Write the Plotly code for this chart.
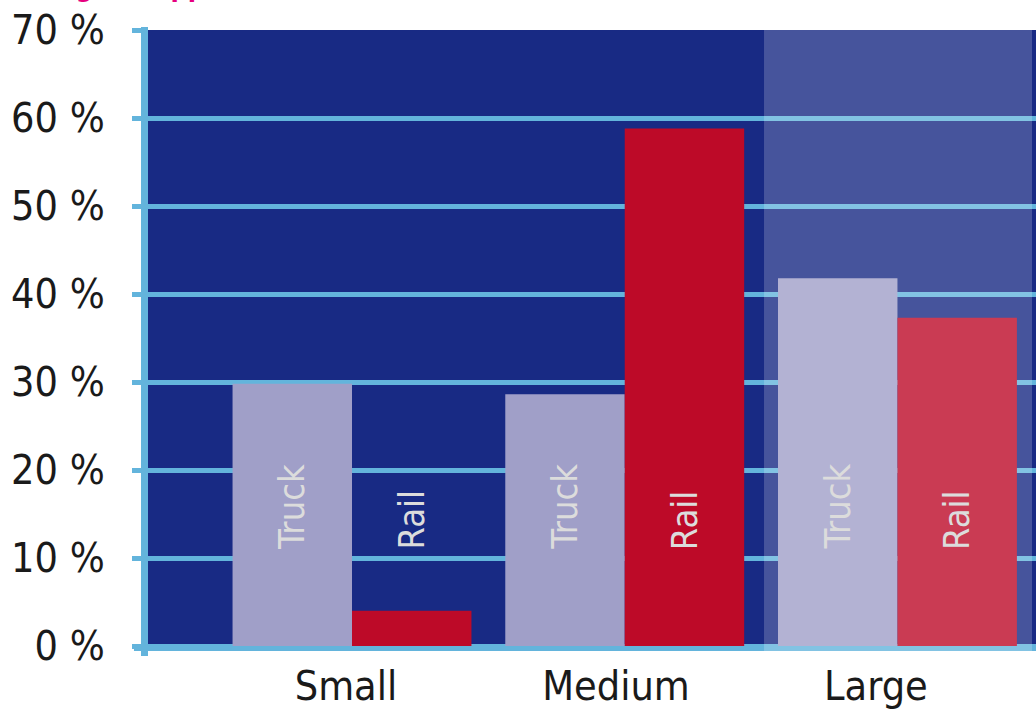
import plotly.graph_objects as go

# Shipment share by shipper size, truck vs rail
categories = ["Small", "Medium", "Large"]
truck = [29.8, 28.6, 41.8]
rail = [4.0, 58.8, 37.3]
y_ticks = [0, 10, 20, 30, 40, 50, 60, 70]
y_tick_text = [f"{v} %" for v in y_ticks]

NAVY = "#182a84"
GRID = "#63b4dc"
TRUCK_C = "#a09fc8"
RAIL_C = "#bd0a28"
LABEL_C = "#dcdcdc"
FONT = "DejaVu Sans Condensed, Liberation Sans Narrow, sans-serif"

xs = list(range(len(categories)))
half = 0.219  # offset of each bar inside its group

fig = go.Figure()
fig.add_trace(go.Bar(x=xs, y=truck, name="Truck", marker=dict(color=TRUCK_C, line=dict(width=0))))
fig.add_trace(go.Bar(x=xs, y=rail, name="Rail", marker=dict(color=RAIL_C, line=dict(width=0))))

# rotated mode names inside / above each bar
for i in xs:
    for dx, txt in ((-half, "Truck"), (half, "Rail")):
        fig.add_annotation(
            x=i + dx, y=10.7, xref="x", yref="y", text=txt, textangle=-90,
            showarrow=False, xanchor="center", yanchor="bottom",
            font=dict(family=FONT, size=36, color=LABEL_C),
        )

# heading (runs above the top edge of the page)
fig.add_annotation(
    x=0.0, y=1.042, xref="paper", yref="paper", text="<b>Freight shipper size</b>",
    showarrow=False, xanchor="left", yanchor="bottom", xshift=-126,
    font=dict(family=FONT, size=27, color="#e6007e"),
)

shapes = [
    # y axis line
    dict(type="line", xref="paper", yref="paper", x0=-0.00394, x1=-0.00394, y0=-0.0162, y1=1.0049,
         line=dict(color=GRID, width=7), layer="below"),
    # x axis line
    dict(type="line", xref="paper", yref="paper", x0=-0.0158, x1=1.01, y0=-0.00244, y1=-0.00244,
         line=dict(color=GRID, width=7), layer="below"),
    # translucent band over the large-shipper group
    dict(type="rect", xref="paper", yref="paper", x0=0.6937, x1=0.9955, y0=-0.0081, y1=1.0024,
         fillcolor="rgba(255,255,255,0.2)", line=dict(width=0), layer="above"),
]

fig.update_layout(
    width=1036, height=709,
    margin=dict(l=148, r=0, t=30, b=63),
    paper_bgcolor="white", plot_bgcolor=NAVY,
    barmode="group", bargap=0.124, bargroupgap=0,
    showlegend=False,
    shapes=shapes,
    xaxis=dict(
        range=[-0.748, 2.508], tickvals=[-0.022, 0.968, 1.921], ticktext=categories,
        showgrid=False, zeroline=False, showline=False, ticks="",
        ticklabelstandoff=12,
        tickfont=dict(family=FONT, size=41, color="#1a1a1a"), automargin=False,
    ),
    yaxis=dict(
        range=[0, 70], tickvals=y_ticks, ticktext=y_tick_text,
        showgrid=True, gridcolor=GRID, gridwidth=5, zeroline=False, showline=False,
        ticks="outside", ticklen=15, tickwidth=5, tickcolor=GRID,
        ticklabelstandoff=19,
        tickfont=dict(family=FONT, size=41, color="#1a1a1a"), automargin=False,
    ),
)

fig.write_html("out.html")
